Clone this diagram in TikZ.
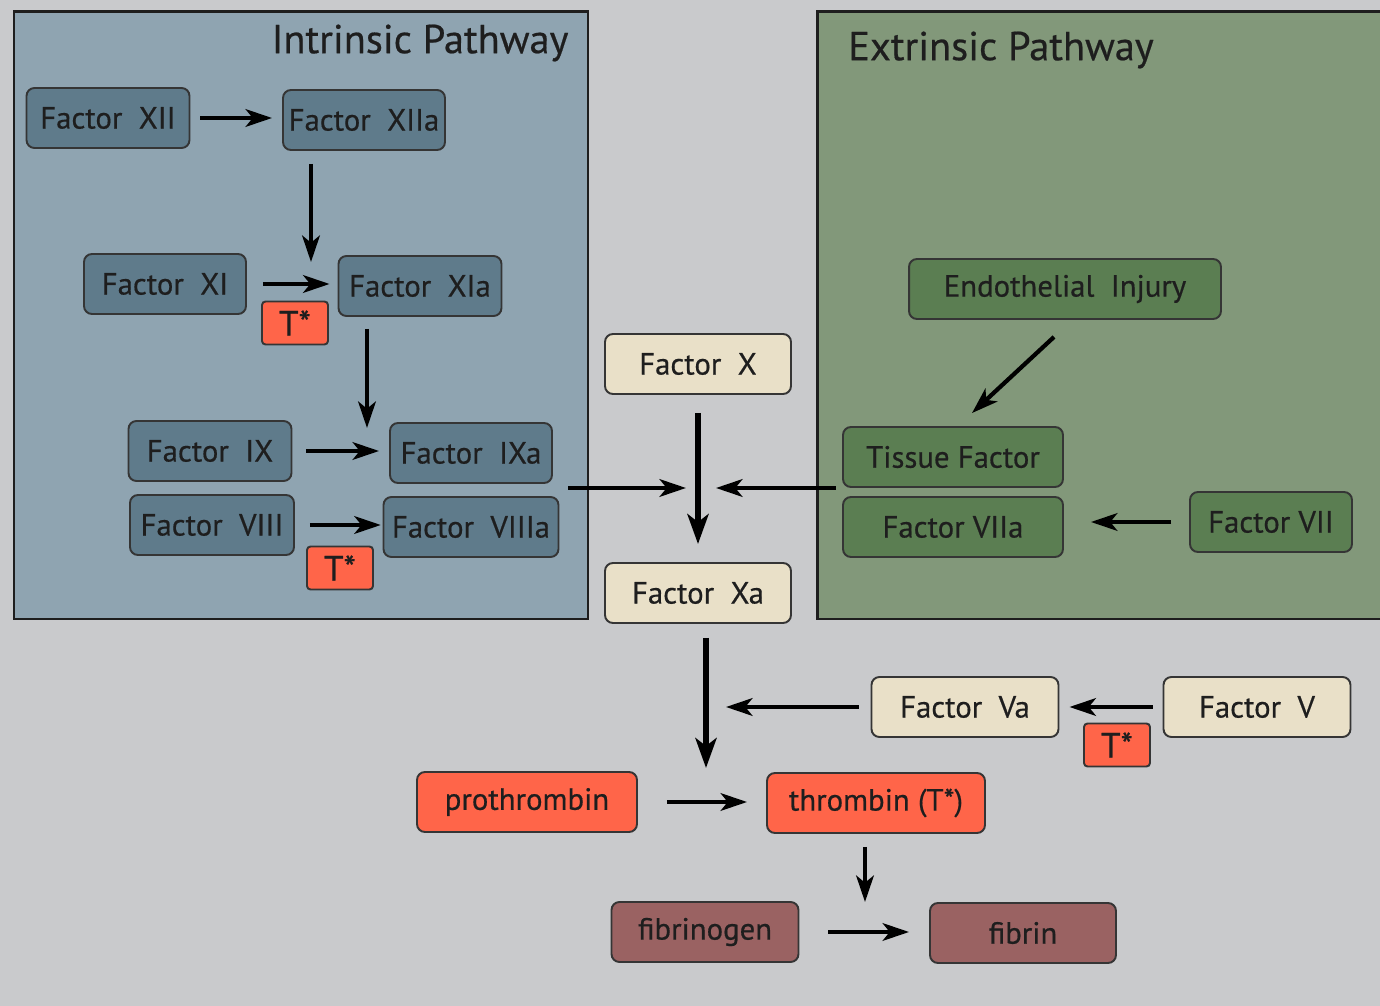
\documentclass[tikz,border=0pt]{standalone}
\usepackage{fontspec}
\setmainfont{PT Sans}
\newfontfamily\labelfont{PT Sans}[FakeBold=0.5]
\usetikzlibrary{arrows.meta,calc,positioning}
\definecolor{bggrey}{HTML}{C9CACC}
\definecolor{intrfill}{HTML}{8FA4B1}
\definecolor{extrfill}{HTML}{82987A}
\definecolor{slatefill}{HTML}{5F7B8B}
\definecolor{greenfill}{HTML}{5B7E52}
\definecolor{tanfill}{HTML}{E9E0C8}
\definecolor{redfill}{HTML}{FF6549}
\definecolor{brownfill}{HTML}{9A6262}
\definecolor{inkgrey}{HTML}{1E1E1E}
\tikzset{
  panel/.style={draw=inkgrey,line width=1.7pt},
  title/.style={text=inkgrey,font=\labelfont\fontsize{23}{26}\selectfont},
  box/.style={draw=inkgrey!90,line width=1.1pt,rounded corners=4.5pt,minimum height=1.2cm,inner sep=2pt,text=inkgrey,font=\labelfont\fontsize{17.5}{20}\selectfont},
  slatebox/.style={box,fill=slatefill},
  greenbox/.style={box,fill=greenfill},
  tanbox/.style={box,fill=tanfill},
  redbox/.style={box,fill=redfill},
  brownbox/.style={box,fill=brownfill},
  tbox/.style={box,fill=redfill,rounded corners=2pt,minimum width=1.32cm,minimum height=0.86cm,font=\labelfont\fontsize{20}{22}\selectfont},
  link/.style={line width=2.4pt,shorten <=0.2cm,shorten >=0.2cm,-{Stealth[length=15pt,width=10pt,inset=4pt]}},
  biglink/.style={line width=3.2pt,shorten <=0.36cm,shorten >=0.36cm,-{Stealth[length=17pt,width=12pt,inset=4.5pt]}},
}
\begin{document}
\begin{tikzpicture}[x=0.02cm,y=-0.02cm]
\useasboundingbox (0,0) rectangle (1380,1006);
\clip (0,0) rectangle (1380,1006);
\fill[bggrey] (0,0) rectangle (1380,1006);

% the two pathway panels
\draw[panel,fill=intrfill] (14,12) rectangle (588,619);
\draw[panel,fill=extrfill] (817,12) rectangle (1395,619);
\node[title] (intrtitle) at (420,43) {Intrinsic Pathway};
\node[title] (extrtitle) at (1001,50) {Extrinsic Pathway};

% intrinsic pathway
\node[slatebox,minimum width=3.26cm] (f12) at (108,118) {Factor\ \ XII};
\node[slatebox,minimum width=3.24cm] (f12a) at (364,120) {Factor\ \ XIIa};
\node[slatebox,minimum width=3.24cm] (f11) at (165,284) {Factor\ \ XI};
\node[slatebox,minimum width=3.26cm] (f11a) at (420,286) {Factor\ \ XIa};
\node[tbox] (t1) at (295,323) {T*};
\node[slatebox,minimum width=3.26cm] (f9) at (210,451) {Factor\ \ IX};
\node[slatebox,minimum width=3.24cm] (f9a) at (471,453) {Factor\ \ IXa};
\node[slatebox,minimum width=3.28cm] (f8) at (212,525) {Factor\ \ VIII};
\node[slatebox,minimum width=3.5cm] (f8a) at (471,527) {Factor\ \ VIIIa};
\node[tbox] (t2) at (340,568) {T*};

% extrinsic pathway
\node[greenbox,minimum width=6.24cm] (endo) at (1065,289) {Endothelial\ \ Injury};
\node[greenbox,minimum width=4.4cm] (tf) at (953,457) {Tissue Factor};
\node[greenbox,minimum width=4.4cm] (f7a) at (953,527) {Factor VIIa};
\node[greenbox,minimum width=3.24cm] (f7) at (1271,522) {Factor VII};

% common pathway
\node[tanbox,minimum width=3.72cm] (f10) at (698,364) {Factor\ \ X};
\node[tanbox,minimum width=3.72cm] (f10a) at (698,593) {Factor\ \ Xa};
\node[tanbox,minimum width=3.74cm] (f5a) at (965,707) {Factor\ \ Va};
\node[tanbox,minimum width=3.74cm] (f5) at (1257,707) {Factor\ \ V};
\node[tbox] (t3) at (1117,745) {T*};
\node[redbox,minimum width=4.4cm] (proth) at (527,802) {prothrombin};
\node[redbox,minimum width=4.36cm] (thromb) at (876,803) {thrombin (T*)};
\node[brownbox,minimum width=3.74cm] (fbgn) at (705,932) {fibrinogen};
\node[brownbox,minimum width=3.72cm] (fbn) at (1023,933) {fibrin};

% junction points
\coordinate (j1) at (311,262);
\coordinate (j2) at (367,428);
\coordinate (introut) at (568,488);
\coordinate (extrout) at (836,488);
\coordinate (xjoin) at (700,488);
\coordinate (pjoin) at (706,768);
\coordinate (fjoin) at (865,902);

% arrows
\draw[link] (f12) -- (f12 -| f12a.west);
\draw[link,shorten <=0.26cm,shorten >=0pt] (f12a.south -| j1) -- (j1);
\draw[link,shorten <=0.32cm,shorten >=0.16cm] (f11) -- (f11 -| f11a.west);
\draw[link,shorten >=0pt,shorten <=0.24cm] (f11a.south -| j2) -- (j2);
\draw[link,shorten <=0.28cm] (f9) -- (f9 -| f9a.west);
\draw[link,shorten <=0.3cm,shorten >=1pt] (f8) -- (f8 -| f8a.west);
\draw[link,shorten <=0pt,shorten >=0.28cm] (introut) -- (xjoin);
\draw[link,shorten <=0pt,shorten >=0.32cm] (extrout) -- (xjoin);
\draw[biglink] (f10) -- (f10a);
\draw[link,shorten <=0pt,shorten >=0pt] ($(endo.south)+(-11,17)$) -- ($(tf.north)+(19,-13)$);
\draw[link,shorten <=0.36cm,shorten >=0.54cm] (f7.west) -- (f7.west -| f7a.east);
\draw[biglink,shorten <=0.28cm,shorten >=0pt] (f10a.south -| pjoin) -- (pjoin);
\draw[link,shorten <=0.24cm,shorten >=0.4cm] (f5a.west) -- (f5a.west -| pjoin);
\draw[link] (f5.west) -- (f5.west -| f5a.east);
\draw[link,shorten <=0.58cm,shorten >=0.38cm] (proth) -- (proth -| thromb.west);
\draw[link,shorten <=0.26cm,shorten >=0pt] (thromb.south -| fjoin) -- (fjoin);
\draw[link,shorten <=0.58cm,shorten >=0.4cm] (fbgn) -- (fbgn -| fbn.west);
\end{tikzpicture}
\end{document}
